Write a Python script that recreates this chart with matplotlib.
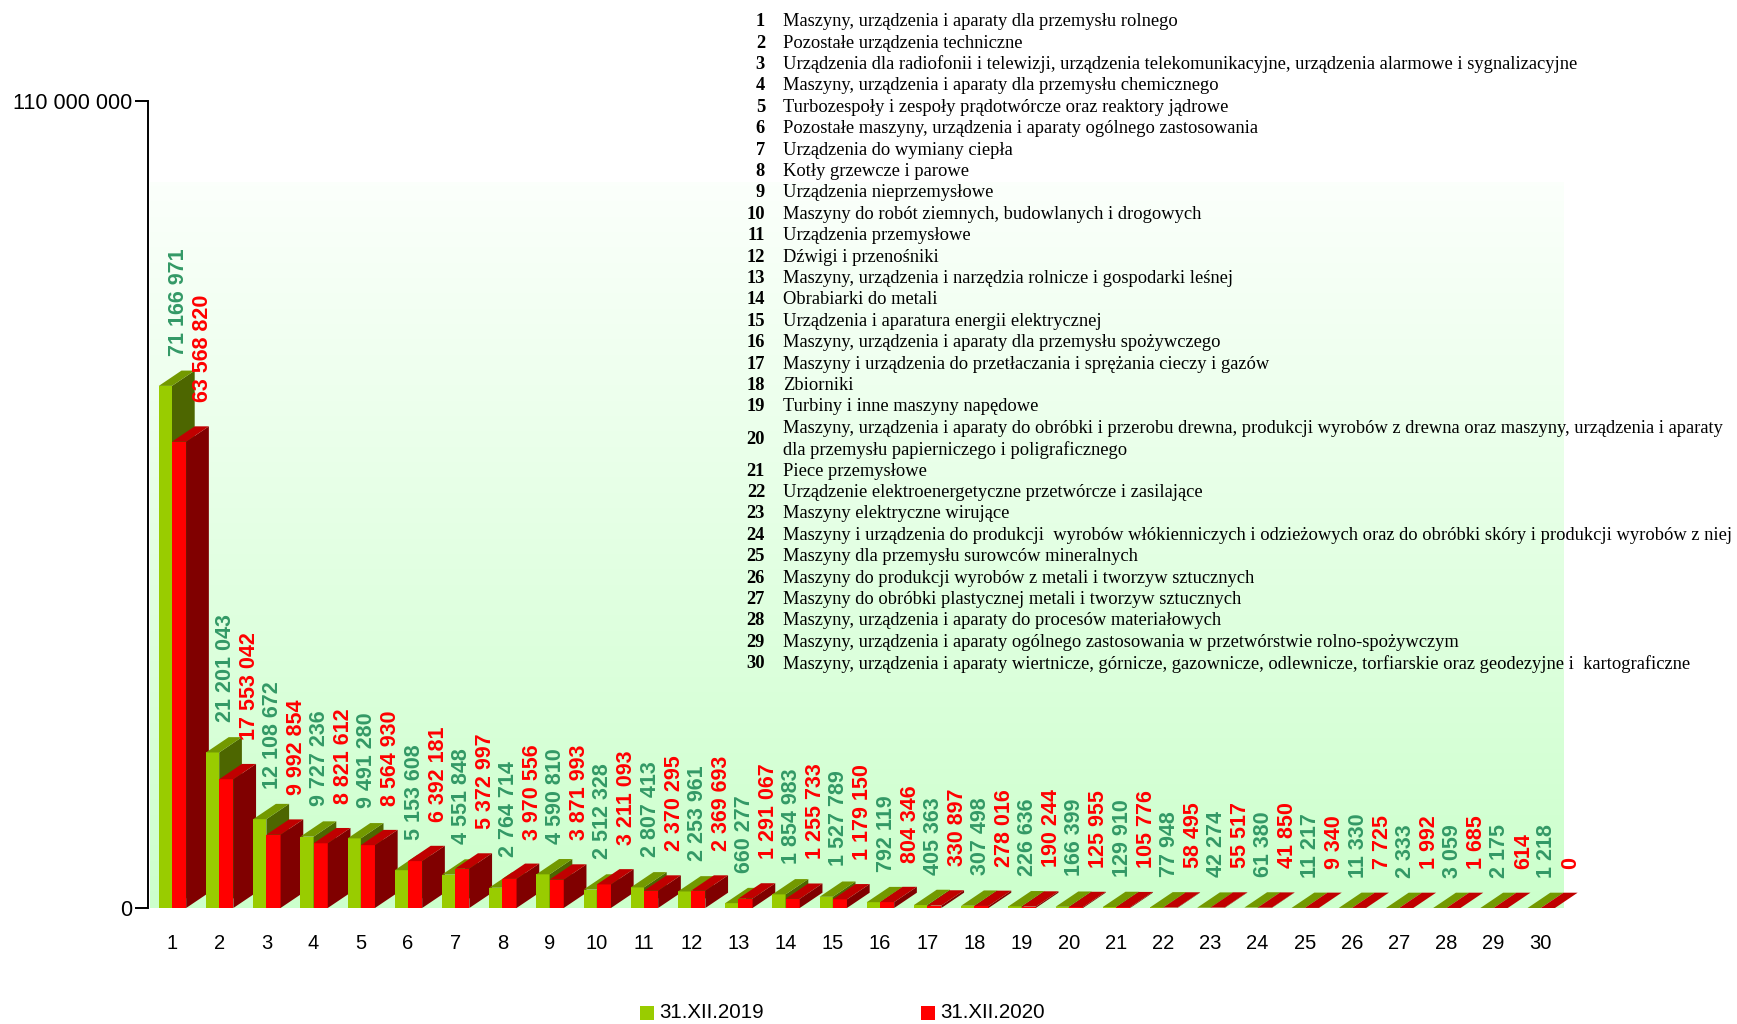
import matplotlib
matplotlib.use("Agg")
import matplotlib.pyplot as plt
import numpy as np
from matplotlib.patches import Rectangle, Polygon

# ---------------- data ----------------
categories = list(range(1, 31))
values_2019 = [71166971, 21201043, 12108672, 9727236, 9491280, 5153608, 4551848,
               2764714, 4590810, 2512328, 2807413, 2253961, 660277, 1854983,
               1527789, 792119, 405363, 307498, 226636, 166399, 129910, 77948,
               42274, 61380, 11217, 11330, 2333, 3059, 2175, 1218]
values_2020 = [63568820, 17553042, 9992854, 8821612, 8564930, 6392181, 5372997,
               3970556, 3871993, 3211093, 2370295, 2369693, 1291067, 1255733,
               1179150, 804346, 330897, 278016, 190244, 125955, 105776, 58495,
               55517, 41850, 9340, 7725, 1992, 1685, 614, 0]
series_names = ["31.XII.2019", "31.XII.2020"]
category_names = [
    "Maszyny, urządzenia i aparaty dla przemysłu rolnego",
    "Pozostałe urządzenia techniczne",
    "Urządzenia dla radiofonii i telewizji, urządzenia telekomunikacyjne, urządzenia alarmowe i sygnalizacyjne",
    "Maszyny, urządzenia i aparaty dla przemysłu chemicznego",
    "Turbozespoły i zespoły prądotwórcze oraz reaktory jądrowe",
    "Pozostałe maszyny, urządzenia i aparaty ogólnego zastosowania",
    "Urządzenia do wymiany ciepła",
    "Kotły grzewcze i parowe",
    "Urządzenia nieprzemysłowe",
    "Maszyny do robót ziemnych, budowlanych i drogowych",
    "Urządzenia przemysłowe",
    "Dźwigi i przenośniki",
    "Maszyny, urządzenia i narzędzia rolnicze i gospodarki leśnej",
    "Obrabiarki do metali",
    "Urządzenia i aparatura energii elektrycznej",
    "Maszyny, urządzenia i aparaty dla przemysłu spożywczego",
    "Maszyny i urządzenia do przetłaczania i sprężania cieczy i gazów",
    "Zbiorniki",
    "Turbiny i inne maszyny napędowe",
    "Maszyny, urządzenia i aparaty do obróbki i przerobu drewna, produkcji wyrobów z drewna oraz maszyny, urządzenia i aparaty\ndla przemysłu papierniczego i poligraficznego",
    "Piece przemysłowe",
    "Urządzenie elektroenergetyczne przetwórcze i zasilające",
    "Maszyny elektryczne wirujące",
    "Maszyny i urządzenia do produkcji  wyrobów włókienniczych i odzieżowych oraz do obróbki skóry i produkcji wyrobów z niej",
    "Maszyny dla przemysłu surowców mineralnych",
    "Maszyny do produkcji wyrobów z metali i tworzyw sztucznych",
    "Maszyny do obróbki plastycznej metali i tworzyw sztucznych",
    "Maszyny, urządzenia i aparaty do procesów materiałowych",
    "Maszyny, urządzenia i aparaty ogólnego zastosowania w przetwórstwie rolno-spożywczym",
    "Maszyny, urządzenia i aparaty wiertnicze, górnicze, gazownicze, odlewnicze, torfiarskie oraz geodezyjne i  kartograficzne",
]
y_ticks = [0, 110000000]
y_tick_labels = ["0", "110 000 000"]

# ---------------- style ----------------
W, H = 1737, 1024
SANS = "Liberation Sans"
SERIF = "Liberation Serif"
plt.rcParams["font.family"] = [SANS, "DejaVu Sans"]

front_cols = ["#99cc00", "#ff0000"]
top_cols = ["#739900", "#c00000"]
side_cols = ["#4d6600", "#800000"]
label_cols = ["#339966", "#ff0000"]

fig = plt.figure(figsize=(W / 100, H / 100), dpi=100)

# background gradient (3D back wall)
bg = fig.add_axes([150 / W, (H - 908) / H, (1564 - 150) / W, (908 - 182) / H])
top_c = np.array([0.985, 1.0, 0.985])
bot_c = np.array([0.80, 1.0, 0.80])
t = np.linspace(0, 1, 256)[:, None, None]
grad = top_c * (1 - t) + bot_c * t
bg.imshow(grad, aspect="auto", extent=[0, 1, 0, 1], interpolation="bilinear")
bg.axis("off")
bg.set_zorder(0)

# main axes
px_per_cat = 47.2
x_left_px = 172 - 0.5 * px_per_cat
xmax = 31.25
ax = fig.add_axes([x_left_px / W, (H - 908) / H,
                   (xmax - 0.5) * px_per_cat / W, (908 - 101) / H])
ax.set_zorder(1)
ax.patch.set_alpha(0)
ax.set_xlim(0.5, xmax)
ax.set_ylim(0, 110000000)

# 3D depth
dx = 22.7 / px_per_cat
dy = 15.3 * 110000000 / 807
widths = [0.28, 0.30]

zo = 2
for i, cat in enumerate(categories):
    for s, vals in enumerate([values_2019, values_2020]):
        h = vals[i]
        w = widths[s]
        x0 = cat - w if s == 0 else cat
        x1 = x0 + w
        front = Rectangle((x0, 0), w, h, facecolor=front_cols[s], edgecolor="none",
                          zorder=zo, clip_on=False)
        side = Polygon([(x1, 0), (x1 + dx, dy), (x1 + dx, h + dy), (x1, h)],
                       closed=True, facecolor=side_cols[s], edgecolor="none",
                       zorder=zo, clip_on=False)
        top = Polygon([(x0, h), (x1, h), (x1 + dx, h + dy), (x0 + dx, h + dy)],
                      closed=True, facecolor=top_cols[s], edgecolor="none",
                      zorder=zo, clip_on=False)
        ax.add_patch(front)
        ax.add_patch(side)
        ax.add_patch(top)
        zo += 1

# value labels
offs = [(6, 15), (30, 24)]
for i, cat in enumerate(categories):
    for s, vals in enumerate([values_2019, values_2020]):
        h = vals[i]
        txt = f"{h:,}".replace(",", " ")
        ax.annotate(txt, xy=(cat, h + dy), xytext=offs[s], textcoords="offset pixels",
                    rotation=90, ha="center", va="bottom", color=label_cols[s],
                    fontsize=15.5, fontweight="bold", family=SANS, zorder=200,
                    annotation_clip=False)

# axes styling
for sp in ["top", "right", "bottom"]:
    ax.spines[sp].set_visible(False)
ax.spines["left"].set_linewidth(1.4)
ax.spines["left"].set_color("black")
ax.set_yticks(y_ticks)
ax.set_yticklabels(y_tick_labels)
ax.tick_params(axis="y", direction="out", length=9.5, width=1.4, pad=2,
               labelsize=15.6, colors="black")
ax.set_xticks(categories)
ax.set_xticklabels([str(c) for c in categories])
ax.tick_params(axis="x", length=0, pad=19, labelsize=14.5)

# right-hand category description list
row_h = 21.4
y0 = 21.7
row = 0
for n, name in enumerate(category_names, start=1):
    lines = name.split("\n")
    yc_num = y0 + (row + (len(lines) - 1) / 2) * row_h
    fig.text(765 / W, 1 - yc_num / H, str(n), ha="right", va="center",
             family=SERIF, fontweight="bold", fontsize=13.35)
    for ln in lines:
        yc = y0 + row * row_h
        fig.text(783 / W, 1 - yc / H, ln, ha="left", va="center",
                 family=SERIF, fontsize=13.35)
        row += 1

# bottom legend
leg_x = [640, 921]
for s, name in enumerate(series_names):
    fig.add_artist(Rectangle((leg_x[s] / W, (H - 1020) / H), 14 / W, 14 / H,
                             transform=fig.transFigure, facecolor=front_cols[s],
                             edgecolor="none"))
    fig.text((leg_x[s] + 19) / W, 1 - 1013 / H, name, ha="left", va="center",
             fontsize=14.8, family=SANS)

fig.savefig("out.png", dpi=100)
